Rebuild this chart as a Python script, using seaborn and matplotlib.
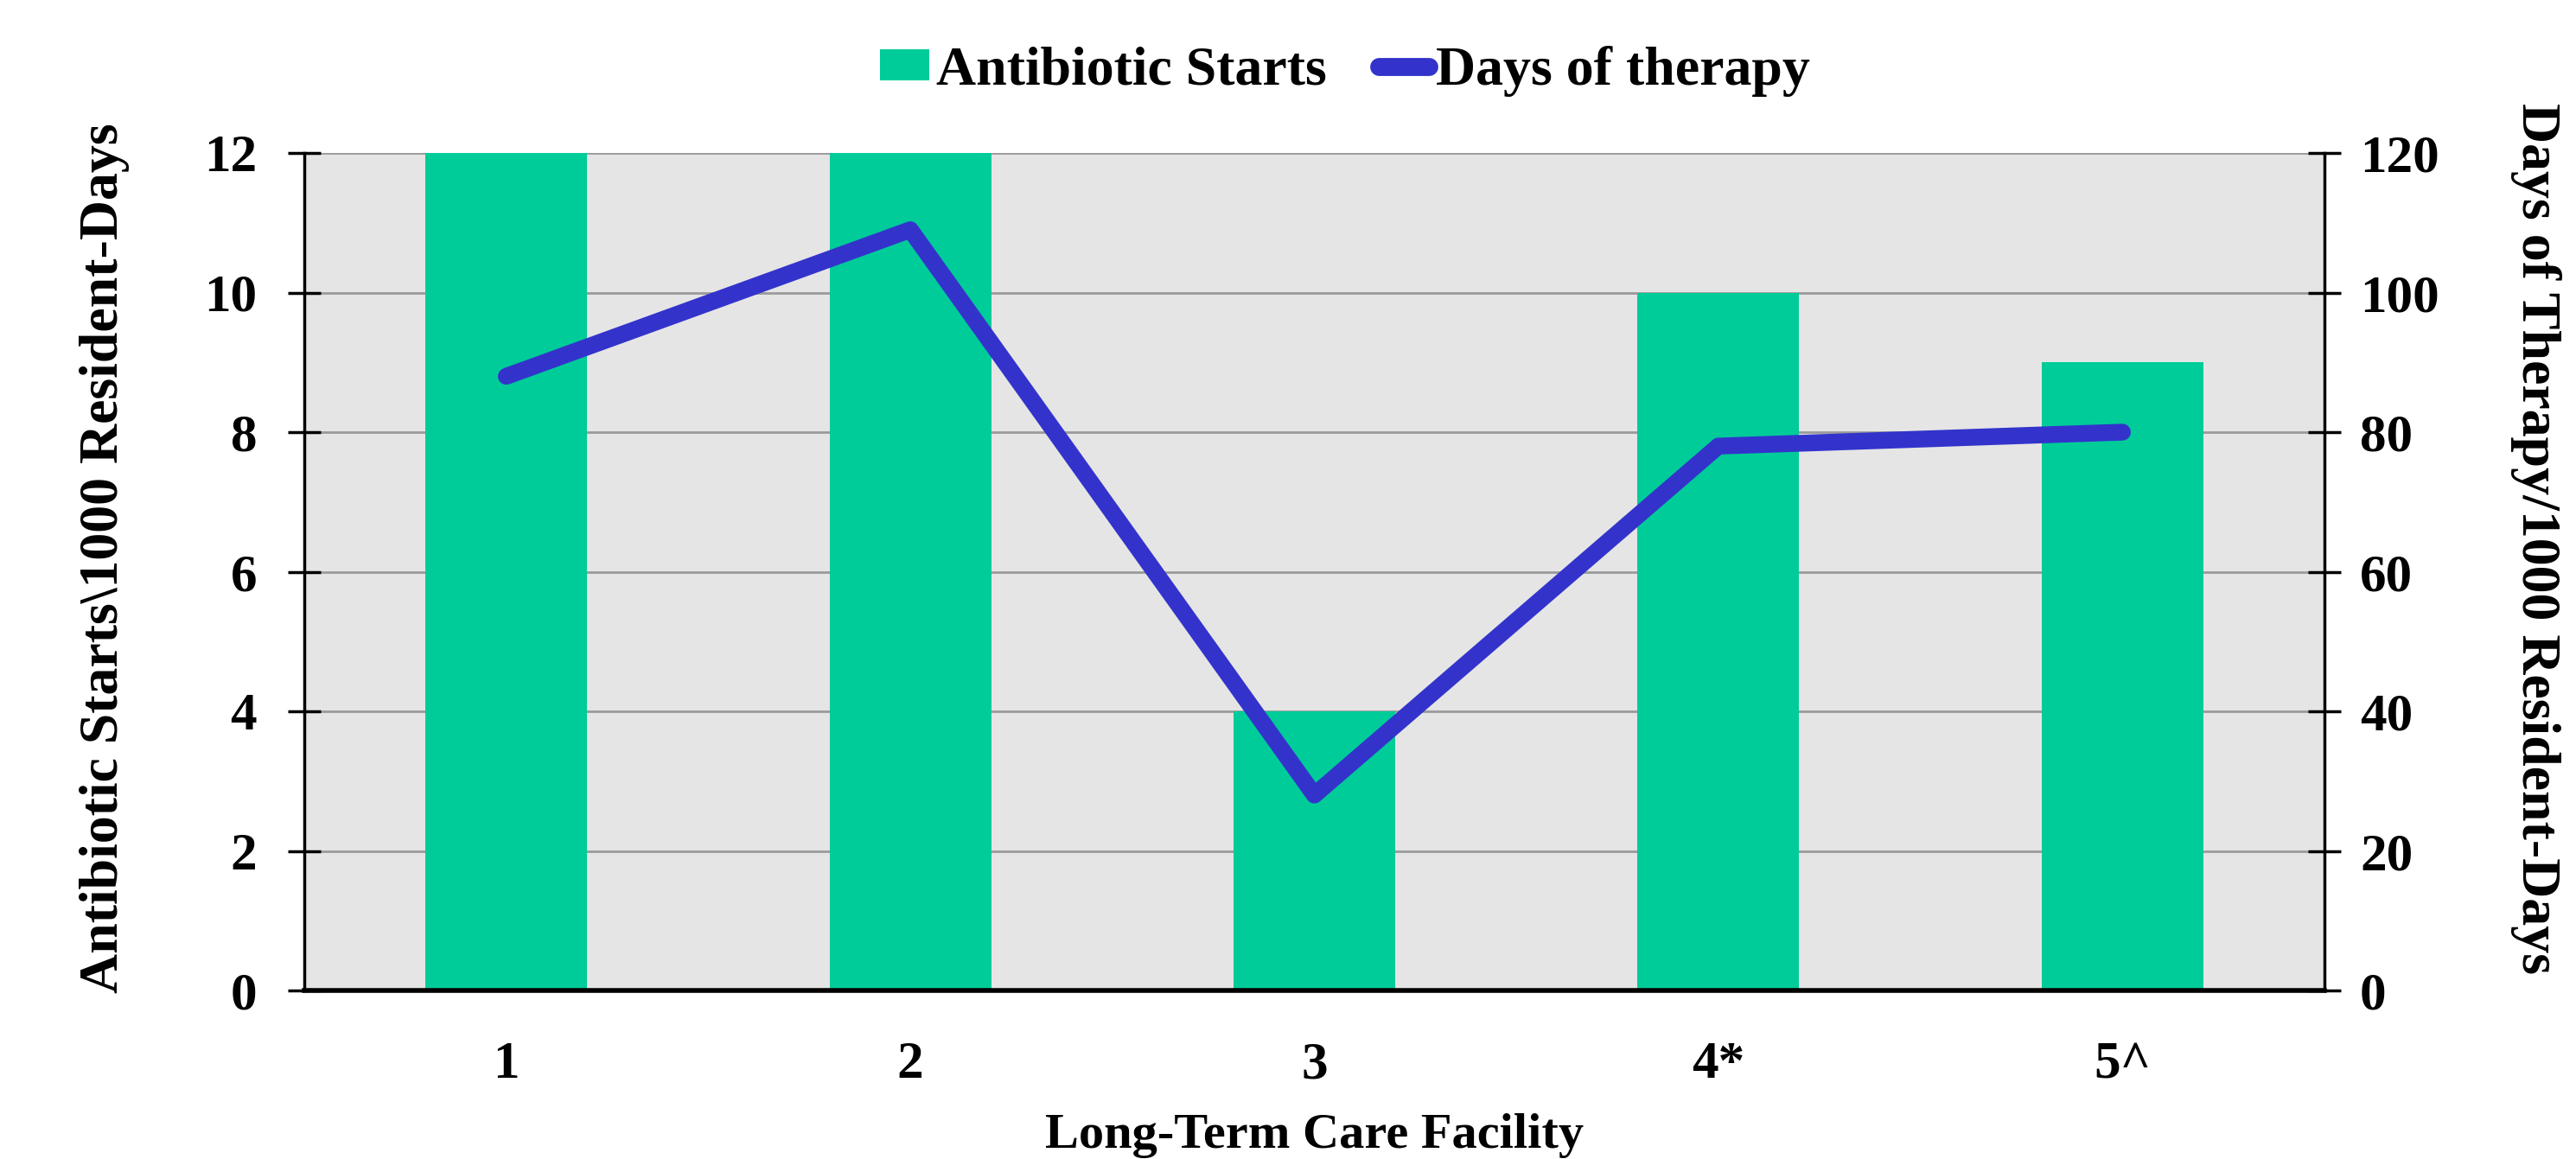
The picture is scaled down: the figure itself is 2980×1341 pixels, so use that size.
import numpy as np
import pandas as pd
import matplotlib
matplotlib.use("Agg")
import matplotlib.pyplot as plt
import seaborn as sns
from matplotlib.patches import Patch
from matplotlib.lines import Line2D

facilities = ["1", "2", "3", "4*", "5^"]
antibiotic_starts = [12, 12, 4, 10, 9]
days_of_therapy = [88, 109, 28, 78, 80]
left_ticks = [0, 2, 4, 6, 8, 10, 12]
right_ticks = [0, 20, 40, 60, 80, 100, 120]

BAR_COLOR = "#00CC99"
LINE_COLOR = "#3333CC"
BG = "#E5E5E5"

sns.set_theme(style="white")
plt.rcParams["font.family"] = ["Liberation Serif", "DejaVu Serif"]
plt.rcParams["font.weight"] = "bold"
plt.rcParams["text.color"] = "black"
plt.rcParams["axes.labelcolor"] = "black"
plt.rcParams["xtick.color"] = "black"
plt.rcParams["ytick.color"] = "black"

df = pd.DataFrame({
    "facility": facilities,
    "pos": np.arange(len(facilities)),
    "starts": antibiotic_starts,
    "dot": days_of_therapy,
})

fig = plt.figure(figsize=(29.8, 13.41), dpi=100)
ax = fig.add_axes([352/2980, 1 - 1146/1341, (2689-352)/2980, (1146-177)/1341])
ax.set_facecolor(BG)

sns.barplot(data=df, x="facility", y="starts", color=BAR_COLOR, width=0.4,
            saturation=1, linewidth=0, edgecolor="none", ax=ax, zorder=2)
ax.set_xlim(-0.5, len(facilities) - 0.5)
ax.set_ylim(0, 12)
ax.set_yticks(left_ticks)
ax.set_axisbelow(True)
ax.yaxis.grid(True, color="#9A9A9A", linewidth=2, zorder=0)
ax.xaxis.grid(False)

ax2 = ax.twinx()
sns.lineplot(data=df, x="pos", y="dot", color=LINE_COLOR, linewidth=14,
             ax=ax2, solid_capstyle="round", solid_joinstyle="round")
ax2.set_ylim(0, 120)
ax2.set_yticks(right_ticks)
ax2.set_xlim(-0.5, len(facilities) - 0.5)

tick_fs = 44
for a in (ax, ax2):
    for s in a.spines.values():
        s.set_visible(False)

ax.spines["left"].set_visible(True)
ax.spines["left"].set_linewidth(2.5)
ax.spines["left"].set_color("black")
ax.spines["bottom"].set_visible(True)
ax.spines["bottom"].set_linewidth(4)
ax.spines["bottom"].set_color("black")
ax2.spines["right"].set_visible(True)
ax2.spines["right"].set_linewidth(2.5)
ax2.spines["right"].set_color("black")

ax.tick_params(axis="y", direction="inout", length=27, width=2.5, pad=26,
               labelsize=tick_fs, left=True, colors="black")
ax.tick_params(axis="x", length=0, pad=42, labelsize=tick_fs, colors="black")
ax2.tick_params(axis="y", direction="inout", length=27, width=2.5, pad=16,
                labelsize=tick_fs, right=True, colors="black")

for lab in ax.get_xticklabels() + ax.get_yticklabels() + ax2.get_yticklabels():
    lab.set_fontweight("bold")
    lab.set_color("black")

ax.set_xlabel("Long-Term Care Facility", fontsize=42, fontweight="bold",
              labelpad=20, color="black")
ax.set_ylabel("Antibiotic Starts\\1000 Resident-Days", fontsize=46,
              fontweight="bold", labelpad=62, color="black")
ax2.set_ylabel("Days of Therapy/1000 Resident-Days", fontsize=46,
               fontweight="bold", rotation=270, labelpad=102, color="black")
ax.yaxis.label.set_y(0.516)
ax2.yaxis.label.set_y(0.54)

handles = [Patch(facecolor=BAR_COLOR, edgecolor="none"),
           Line2D([0], [0], color=LINE_COLOR, linewidth=15, solid_capstyle="round")]
fig.legend(handles, ["Antibiotic Starts", "Days of therapy"], loc="center",
           bbox_to_anchor=(818.5/1568, 1 - 82/1341), ncol=2, frameon=False,
           prop={"family": "Liberation Serif", "weight": "bold", "size": 46},
           handlelength=0.9, handleheight=0.5, handletextpad=0.12,
           columnspacing=0.95, labelcolor="black")

fig.savefig("out.png", dpi=100)
